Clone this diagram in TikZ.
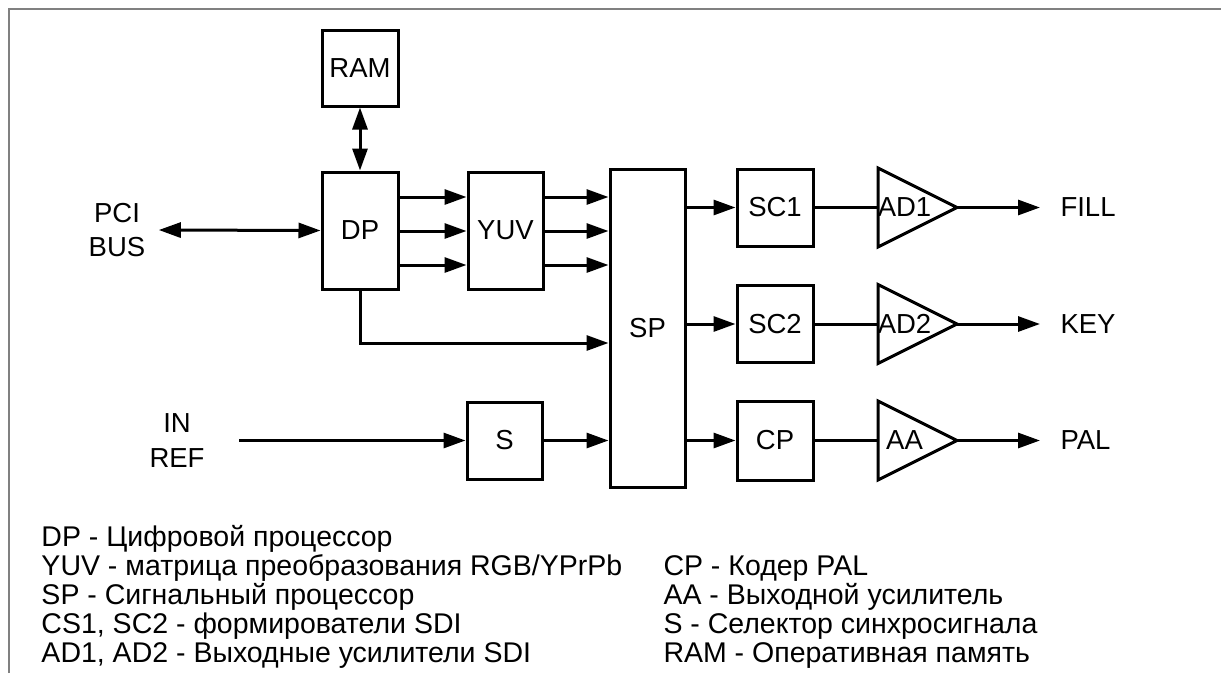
\documentclass[tikz,border=0pt]{standalone}
\usepackage{fontspec}
\setmainfont{Liberation Sans}
\usetikzlibrary{arrows.meta}
\begin{document}
\begin{tikzpicture}[x=1pt,y=-1pt,line width=3pt,
  txt/.style={font=\fontsize{27.5}{29.5}\selectfont, inner sep=0pt},
  blk/.style={draw, line width=3pt, inner sep=0pt, font=\fontsize{27.5}{29.5}\selectfont},
  arr/.style={-{Triangle[length=22pt,width=15pt]}},
  dbl/.style={{Triangle[length=22pt,width=15pt]}-{Triangle[length=22pt,width=15pt]}},
  amp/.style={draw, line width=3pt, line join=miter},
  legend/.style={anchor=base west, inner sep=0pt, font=\fontsize{28.5}{29}\selectfont}]
\useasboundingbox (0,0) rectangle (1221,673);
\draw[color=black!50, line width=1.5pt] (9,673) -- (9,9) -- (1221,9);

% blocks
\node[blk, minimum width=76pt, minimum height=76pt] (ram) at (360,68) {RAM};
\node[blk, minimum width=76pt, minimum height=117pt] (dp) at (360,230.5) {DP};
\node[blk, minimum width=75pt, minimum height=117pt] (yuv) at (505.5,230.5) {YUV};
\node[blk, minimum width=75pt, minimum height=318pt] (sp) at (647.5,328) {SP};
\node[blk, minimum width=76pt, minimum height=77pt] (sc1) at (775,207.5) {SC1};
\node[blk, minimum width=76pt, minimum height=77pt] (sc2) at (775,324) {SC2};
\node[blk, minimum width=76pt, minimum height=79pt] (cp) at (775,440.5) {CP};
\node[blk, minimum width=75pt, minimum height=77pt] (s) at (504.5,440.5) {S};

% amplifiers
\coordinate (a1l) at (878,207.5); \coordinate (a1t) at (957,207.5);
\coordinate (a2l) at (878,324);   \coordinate (a2t) at (957,324);
\coordinate (a3l) at (878,440.5); \coordinate (a3t) at (957,440.5);
\draw[amp] (878,168) -- (a1t) -- (878,247) -- cycle;
\draw[amp] (878,284.5) -- (a2t) -- (878,363.5) -- cycle;
\draw[amp] (878,401) -- (a3t) -- (878,480) -- cycle;
\node[txt] (ad1) at (904.5,207.5) {AD1};
\node[txt] (ad2) at (904.5,324) {AD2};
\node[txt] (aa) at (904.5,440.5) {AA};

% outer labels
\node[txt, align=center, font=\fontsize{27.5}{34}\selectfont] (pci) at (117,230) {PCI\\BUS};
\node[txt, align=center, font=\fontsize{27.5}{35}\selectfont] (inref) at (177,440.5) {IN\\REF};
\node[txt, anchor=west, inner xsep=19pt] (fill) at (1040,207.5) {FILL};
\node[txt, anchor=west, inner xsep=19pt] (key) at (1040,324) {KEY};
\node[txt, anchor=west, inner xsep=19pt] (pal) at (1040,440.5) {PAL};

% helper rows
\coordinate (r1) at (0,197);
\coordinate (r2) at (0,231);
\coordinate (r3) at (0,265);
\coordinate (r4) at (0,343);

% connectors
\draw[dbl] ([xshift=12pt]pci.east) -- (dp.west);
\draw[dbl] (ram.south) -- (dp.north);
\draw[arr] (dp.east |- r1) -- (yuv.west |- r1);
\draw[arr] (dp.east |- r2) -- (yuv.west |- r2);
\draw[arr] (dp.east |- r3) -- (yuv.west |- r3);
\draw[arr] (yuv.east |- r1) -- (sp.west |- r1);
\draw[arr] (yuv.east |- r2) -- (sp.west |- r2);
\draw[arr] (yuv.east |- r3) -- (sp.west |- r3);
\draw[arr] (dp.south) |- (sp.west |- r4);
\draw[arr] ([xshift=33pt]inref.east) -- (s.west);
\draw[arr] (s.east) -- (sp.west |- s.east);
\draw[arr] (sp.east |- sc1.west) -- (sc1.west);
\draw[arr] (sp.east |- sc2.west) -- (sc2.west);
\draw[arr] (sp.east |- cp.west) -- (cp.west);
\draw (sc1.east) -- (a1l);
\draw (sc2.east) -- (a2l);
\draw (cp.east) -- (a3l);
\draw[arr] (a1t) -- (fill.west);
\draw[arr] (a2t) -- (key.west);
\draw[arr] (a3t) -- (pal.west);

% legend
\node[legend] (l1) at (40,546) {DP - Цифровой процессор};
\node[legend] (l2) at (40,575) {YUV - матрица преобразования RGB/YPrPb};
\node[legend] (l3) at (40,604) {SP - Сигнальный процессор};
\node[legend] (l4) at (40,633) {CS1, SC2 - формирователи SDI};
\node[legend] (l5) at (40,662) {AD1, AD2 - Выходные усилители SDI};
\node[legend] (r1t) at (662,575) {CP - Кодер PAL};
\node[legend] (r2t) at (662,604) {AA - Выходной усилитель};
\node[legend] (r3t) at (662,633) {S - Селектор синхросигнала};
\node[legend] (r4t) at (662,662) {RAM - Оперативная память};
\end{tikzpicture}
\end{document}
